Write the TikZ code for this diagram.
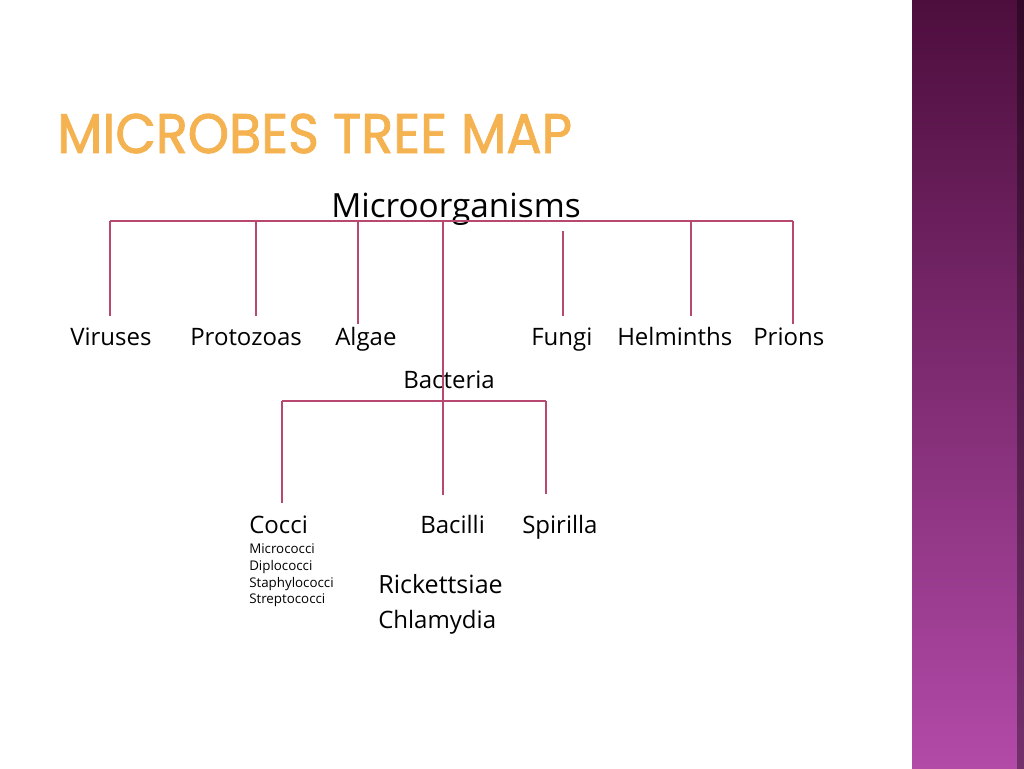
\documentclass[tikz,border=0pt]{standalone}
\usepackage{fontspec}
\setmainfont{Open Sans}
\newfontfamily\titlefont[FakeBold=1.6]{Poppins}
\definecolor{linec}{RGB}{184,72,112}
\definecolor{titlec}{RGB}{245,178,80}
\definecolor{bartop}{RGB}{77,14,61}
\definecolor{barbot}{RGB}{178,74,168}
\begin{document}
\begin{tikzpicture}[x=0.75pt,y=-0.75pt,
  conn/.style={draw=linec,line width=1.1pt},
  lab/.style={inner sep=0pt,anchor=base west,font=\fontsize{18}{20}\selectfont},
  bigl/.style={inner sep=0pt,anchor=base west,font=\fontsize{25}{28}\selectfont},
  small/.style={inner sep=0pt,anchor=base west,font=\fontsize{10}{12}\selectfont}]
\useasboundingbox (0,0) rectangle (1024,768);
\fill[white] (0,0) rectangle (1024,768);
% right bar
\shade[top color=bartop,bottom color=barbot] (912,0) rectangle (1024,768);
\shade[left color=barbot!0!black,right color=black,opacity=0.35] (1017,0) rectangle (1024,768);
% title
\node[inner sep=0pt,anchor=base west,text=titlec] (title) at (57,153)
  {\resizebox{386pt}{29.5pt}{\titlefont MICROBES TREE MAP}};
% level 1
\node[bigl] (micro) at (331,217) {Microorganisms};
% level 2
\node[lab] (vir) at (70,345) {Viruses};
\node[lab] (pro) at (190,345) {Protozoas};
\node[lab] (alg) at (335,345) {Algae};
\node[lab] (fun) at (531,345) {Fungi};
\node[lab] (hel) at (617,345) {Helminths};
\node[lab] (pri) at (753,345) {Prions};
\node[lab] (bac) at (403,388) {Bacteria};
% level 3
\node[lab] (coc) at (249,533) {Cocci};
\node[lab] (bci) at (420,533) {Bacilli};
\node[lab] (spi) at (522,533) {Spirilla};
\node[small] (c1) at (249,553) {Micrococci};
\node[small] (c2) at (249,570) {Diplococci};
\node[small] (c3) at (249,587) {Staphylococci};
\node[small] (c4) at (249,603) {Streptococci};
\node[lab,font=\fontsize{18.8}{20}\selectfont] (ric) at (378,593) {Rickettsiae};
\node[lab] (chl) at (378,628) {Chlamydia};
% connector coordinates
\coordinate (busL) at (110,221);
\coordinate (busR) at (793,221);
\coordinate (t1) at (110,221); \coordinate (e1) at (110,316);
\coordinate (t2) at (256,221); \coordinate (e2) at (256,316);
\coordinate (t3) at (358,221); \coordinate (e3) at (358,324);
\coordinate (t4) at (443,221); \coordinate (e4) at (443,495);
\coordinate (t5) at (563,231); \coordinate (e5) at (563,316);
\coordinate (t6) at (691,221); \coordinate (e6) at (691,316);
\coordinate (t7) at (793,221); \coordinate (e7) at (793,324);
\coordinate (bL) at (282,401); \coordinate (bR) at (546,401);
\coordinate (f1) at (282,503); \coordinate (f3) at (546,494);
\draw[conn] (busL) -- (busR);
\draw[conn] (t1) -- (e1);
\draw[conn] (t2) -- (e2);
\draw[conn] (t3) -- (e3);
\draw[conn] (t4) -- (e4);
\draw[conn] (t5) -- (e5);
\draw[conn] (t6) -- (e6);
\draw[conn] (t7) -- (e7);
\draw[conn] (bL) -- (bR);
\draw[conn] (bL) -- (f1);
\draw[conn] (bR) -- (f3);
\end{tikzpicture}
\end{document}
